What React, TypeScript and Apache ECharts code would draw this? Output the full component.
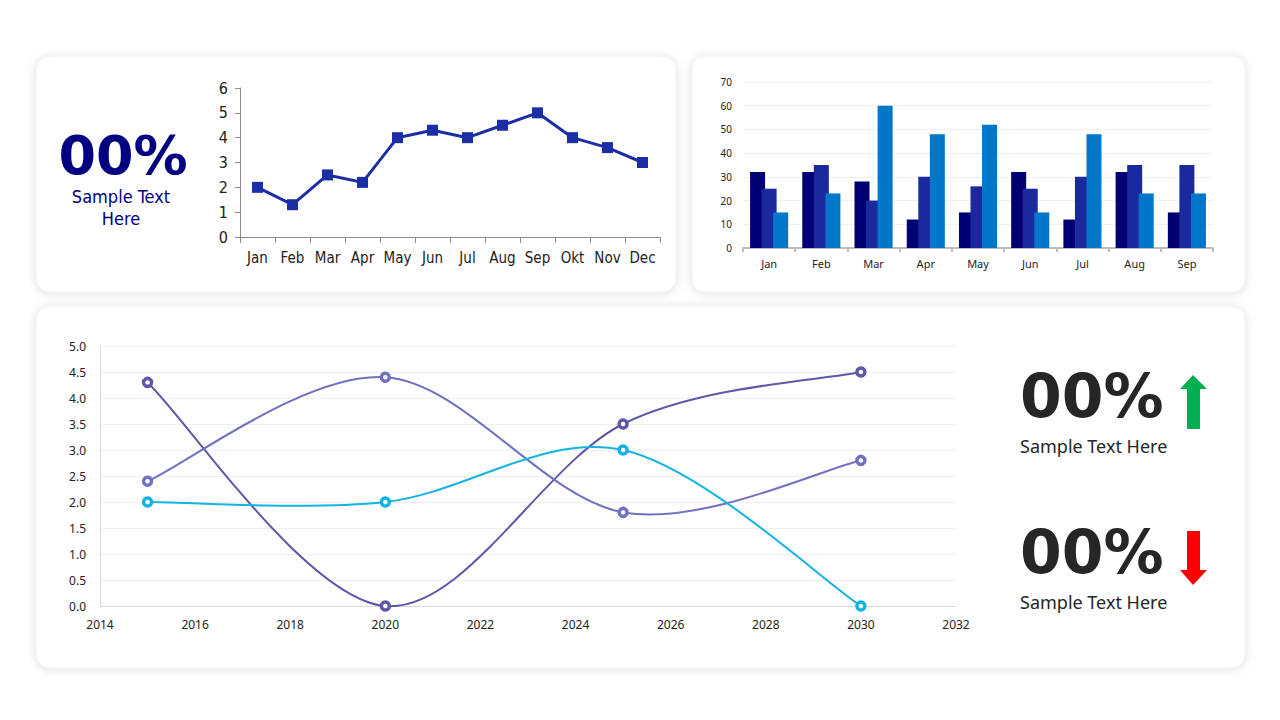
import React, { useEffect, useRef } from "react";
import * as echarts from "echarts";

const months = ["Jan", "Feb", "Mar", "Apr", "May", "Jun", "Jul", "Aug", "Sep", "Okt", "Nov", "Dec"];
const lineValues = [2, 1.3, 2.5, 2.2, 4, 4.3, 4, 4.5, 5, 4, 3.6, 3];

const barMonths = ["Jan", "Feb", "Mar", "Apr", "May", "Jun", "Jul", "Aug", "Sep"];
const barSeries1 = [32, 32, 28, 12, 15, 32, 12, 32, 15];
const barSeries2 = [25, 35, 20, 30, 26, 25, 30, 35, 35];
const barSeries3 = [15, 23, 60, 48, 52, 15, 48, 23, 23];

const years = [2015, 2020, 2025, 2030];
const trendA = [4.3, 0, 3.5, 4.5];
const trendB = [2.4, 4.4, 1.8, 2.8];
const trendC = [2, 2, 3, 0];

const bigText = "00%";
const sampleText = "Sample Text Here";

// Smoothed (Catmull-Rom style) curve segments drawn through the axis scales
function smoothSeries(values: number[], color: string) {
  return {
    type: "custom",
    xAxisIndex: 2,
    yAxisIndex: 2,
    data: years.map((y, i) => [y, values[i]]),
    z: 3,
    silent: true,
    renderItem: (params: any, api: any) => {
      const i = params.dataIndex;
      const n = years.length;
      if (i >= n - 1) return { type: "group", children: [] };
      const pt = (j: number) => {
        const k = Math.max(0, Math.min(n - 1, j));
        return api.coord([years[k], values[k]]);
      };
      const p0 = pt(i - 1);
      const p1 = pt(i);
      const p2 = pt(i + 1);
      const p3 = pt(i + 2);
      const t = 1 / 6;
      return {
        type: "bezierCurve",
        shape: {
          x1: p1[0], y1: p1[1],
          x2: p2[0], y2: p2[1],
          cpx1: p1[0] + (p2[0] - p0[0]) * t,
          cpy1: p1[1] + (p2[1] - p0[1]) * t,
          cpx2: p2[0] - (p3[0] - p1[0]) * t,
          cpy2: p2[1] - (p3[1] - p1[1]) * t,
        },
        style: { stroke: color, lineWidth: 2, fill: "none" },
      };
    },
  };
}

function markerSeries(values: number[], color: string) {
  return {
    type: "scatter",
    xAxisIndex: 2,
    yAxisIndex: 2,
    data: years.map((y, i) => [y, values[i]]),
    z: 5,
    symbol: "circle",
    symbolSize: 8,
    itemStyle: { color: "#ffffff", borderColor: color, borderWidth: 3.5, opacity: 1 },
  };
}

export default function App() {
  const ref = useRef<HTMLDivElement>(null);
  useEffect(() => {
    if (!ref.current) return;
    const chart = echarts.init(ref.current, null, { renderer: "svg" });
    const cardStyle = {
      fill: "#ffffff",
      stroke: "#f0f0f0",
      lineWidth: 1,
      shadowBlur: 10,
      shadowColor: "rgba(0,0,0,0.13)",
      shadowOffsetX: 0,
      shadowOffsetY: 1,
    };
    const condensed = "DejaVu Sans Condensed";
    const sans = "Noto Sans";
    const colA = "#5e57aa";
    const colB = "#7171c2";
    const colC = "#14b4e2";
    const option: any = {
      animation: false,
      backgroundColor: "#ffffff",
      graphic: [
        { type: "rect", z: 0, shape: { x: 36, y: 56, width: 640, height: 236, r: 14 }, style: cardStyle },
        { type: "rect", z: 0, shape: { x: 692, y: 56, width: 553, height: 236, r: 12 }, style: cardStyle },
        { type: "rect", z: 0, shape: { x: 36, y: 306, width: 1209, height: 362, r: 14 }, style: cardStyle },
        {
          type: "text", z: 5, x: 123, y: 155,
          style: { text: bigText, fill: "#000080", font: `bold 54px "DejaVu Sans"`, textAlign: "center", textVerticalAlign: "middle" },
        },
        {
          type: "text", z: 5, x: 121, y: 196,
          style: { text: "Sample Text", fill: "#000080", font: `18px ${condensed}`, textAlign: "center", textVerticalAlign: "middle" },
        },
        {
          type: "text", z: 5, x: 121, y: 218,
          style: { text: "Here", fill: "#000080", font: `18px ${condensed}`, textAlign: "center", textVerticalAlign: "middle" },
        },
        {
          type: "text", z: 5, x: 1020, y: 396,
          style: { text: bigText, fill: "#262626", font: `bold 60px "DejaVu Sans"`, textAlign: "left", textVerticalAlign: "middle" },
        },
        {
          type: "text", z: 5, x: 1020, y: 446,
          style: { text: sampleText, fill: "#262626", font: `18px "${sans}"`, textAlign: "left", textVerticalAlign: "middle" },
        },
        {
          type: "text", z: 5, x: 1020, y: 552,
          style: { text: bigText, fill: "#262626", font: `bold 60px "DejaVu Sans"`, textAlign: "left", textVerticalAlign: "middle" },
        },
        {
          type: "text", z: 5, x: 1020, y: 602,
          style: { text: sampleText, fill: "#262626", font: `18px "${sans}"`, textAlign: "left", textVerticalAlign: "middle" },
        },
        {
          type: "polygon", z: 5,
          shape: { points: [[1193, 375], [1207, 389], [1200, 389], [1200, 429], [1187, 429], [1187, 389], [1180, 389]] },
          style: { fill: "#00B050" },
        },
        {
          type: "polygon", z: 5,
          shape: { points: [[1187, 531], [1200, 531], [1200, 570], [1207, 570], [1193, 585], [1180, 570], [1187, 570]] },
          style: { fill: "#FF0000" },
        },
      ],
      grid: [
        { left: 240, top: 88, width: 420, height: 149, containLabel: false },
        { left: 743, top: 82, width: 470, height: 166, containLabel: false },
        { left: 100, top: 346, width: 856, height: 260, containLabel: false },
      ],
      xAxis: [
        {
          gridIndex: 0, type: "category", data: months, boundaryGap: true,
          axisLine: { show: true, lineStyle: { color: "#8a8a8a", width: 1 } },
          axisTick: { show: true, length: 6, lineStyle: { color: "#8a8a8a" } },
          axisLabel: { color: "#222", fontSize: 15, fontFamily: condensed, margin: 13, interval: 0 },
          splitLine: { show: false },
        },
        {
          gridIndex: 1, type: "category", data: barMonths, boundaryGap: true,
          axisLine: { show: true, lineStyle: { color: "#bdbdbd", width: 2 } },
          axisTick: { show: true, length: 4, lineStyle: { color: "#bdbdbd", width: 2 } },
          axisLabel: { color: "#222", fontSize: 11, fontFamily: sans, margin: 10, interval: 0 },
          splitLine: { show: false },
        },
        {
          gridIndex: 2, type: "value", min: 2014, max: 2032, interval: 2,
          axisLine: { show: true, lineStyle: { color: "#d9d9d9", width: 1 } },
          axisTick: { show: false },
          axisLabel: { color: "#222", fontSize: 12, fontFamily: sans, margin: 12, formatter: (v: number) => String(v) },
          splitLine: { show: false },
        },
      ],
      yAxis: [
        {
          gridIndex: 0, type: "value", min: 0, max: 6, interval: 1,
          axisLine: { show: true, lineStyle: { color: "#8a8a8a", width: 1 } },
          axisTick: { show: true, length: 5, lineStyle: { color: "#8a8a8a" } },
          axisLabel: { color: "#222", fontSize: 16, fontFamily: condensed, margin: 12 },
          splitLine: { show: false },
        },
        {
          gridIndex: 1, type: "value", min: 0, max: 70, interval: 10,
          axisLine: { show: false },
          axisTick: { show: false },
          axisLabel: { color: "#222", fontSize: 10, fontFamily: sans, margin: 11 },
          splitLine: { show: true, lineStyle: { color: "#efefef", width: 1 } },
        },
        {
          gridIndex: 2, type: "value", min: 0, max: 5, interval: 0.5,
          axisLine: { show: true, lineStyle: { color: "#d9d9d9", width: 1 } },
          axisTick: { show: false },
          axisLabel: { color: "#222", fontSize: 12, fontFamily: sans, margin: 14, formatter: (v: number) => v.toFixed(1) },
          splitLine: { show: true, lineStyle: { color: "#efefef", width: 1 } },
        },
      ],
      series: [
        {
          type: "line", xAxisIndex: 0, yAxisIndex: 0, data: lineValues,
          symbol: "rect", symbolSize: 11,
          lineStyle: { color: "#1b2ea5", width: 3 },
          itemStyle: { color: "#1b2ea5" },
        },
        {
          type: "bar", xAxisIndex: 1, yAxisIndex: 1, data: barSeries1,
          barWidth: 15, barGap: "-23%", itemStyle: { color: "#000073" },
        },
        {
          type: "bar", xAxisIndex: 1, yAxisIndex: 1, data: barSeries2,
          barWidth: 15, barGap: "-23%", itemStyle: { color: "#1a2a9e" },
        },
        {
          type: "bar", xAxisIndex: 1, yAxisIndex: 1, data: barSeries3,
          barWidth: 15, barGap: "-23%", itemStyle: { color: "#0077c8" },
        },
        smoothSeries(trendA, colA),
        smoothSeries(trendB, colB),
        smoothSeries(trendC, colC),
        markerSeries(trendA, colA),
        markerSeries(trendB, colB),
        markerSeries(trendC, colC),
      ],
    };
    chart.setOption(option);
    return () => chart.dispose();
  }, []);
  return (
    <div
      ref={ref}
      style={{ position: "absolute", left: 0, top: 0, width: 1280, height: 720, background: "#fff" }}
    />
  );
}
